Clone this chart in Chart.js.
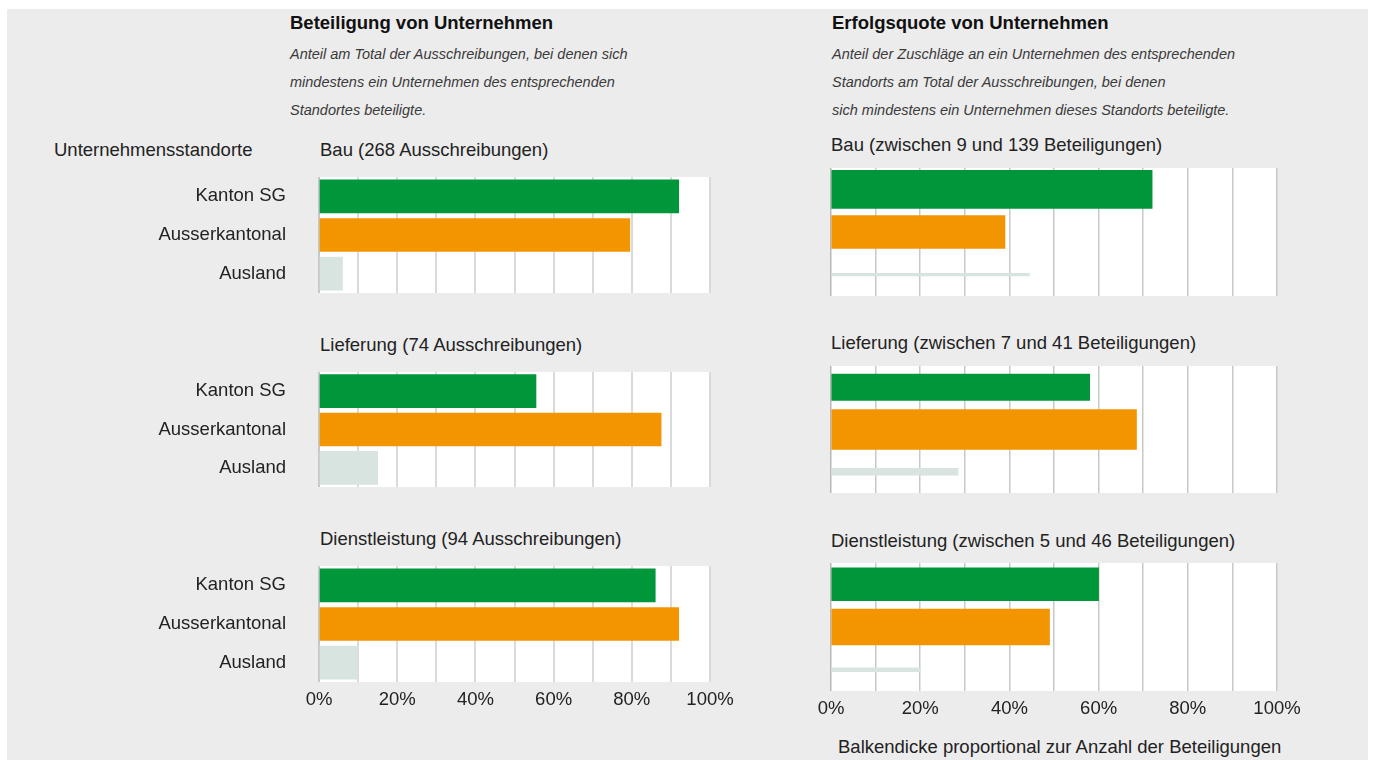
<!DOCTYPE html>
<html>
<head>
<meta charset="utf-8">
<script src="https://cdn.jsdelivr.net/npm/chart.js@4.4.1/dist/chart.umd.min.js"></script>
<style>
  body { margin: 0; background: #fff; font-family: "Liberation Sans", Arial, sans-serif; color: #1a1a1a; }
  #frame { position: absolute; left: 7px; top: 9px; width: 1361px; height: 751px; background: #ececec; }
  .t { position: absolute; white-space: nowrap; }
  .head { font-weight: bold; font-size: 18.5px; line-height: 22px; color: #111; }
  .sub { font-style: italic; font-size: 14.5px; line-height: 18px; color: #3a3a3a; }
  .lbl { font-size: 18.5px; line-height: 22px; color: #222; }
  .box { position: absolute; }
</style>
</head>
<body>
<div id="frame"></div>

<script>
const locations = ['Kanton SG', 'Ausserkantonal', 'Ausland'];
const sectors = ['Bau', 'Lieferung', 'Dienstleistung'];
const tenders = [268, 74, 94];
const xTicks = [0, 20, 40, 60, 80, 100];

// Beteiligung: Anteil am Total der Ausschreibungen (%)
const partBau = [92, 79.5, 6];
const partLieferung = [55.5, 87.5, 15];
const partDienst = [86, 92, 10];

// Erfolgsquote (%)
const winBau = [72, 39, 44.5];
const winLieferung = [58, 68.5, 28.5];
const winDienst = [60, 49, 20];

// Anzahl Beteiligungen (bestimmt die Balkendicke)
const bidsBau = [139, 121, 9];
const bidsLieferung = [27, 41, 7];
const bidsDienst = [42, 46, 5];

const colors = ['#00963a', '#f39500', '#d8e4e0'];
const font = { family: '"Liberation Sans", Arial, sans-serif', size: 18.5 };

function text(cls, str, x, yCenter, lh) {
  const d = document.createElement('div');
  d.className = 't ' + cls;
  d.textContent = str;
  d.style.left = x + 'px';
  d.style.top = (yCenter - lh / 2) + 'px';
  document.body.appendChild(d);
}

// headings
text('head', 'Beteiligung von Unternehmen', 290, 23, 22);
text('sub', 'Anteil am Total der Ausschreibungen, bei denen sich', 290, 54, 18);
text('sub', 'mindestens ein Unternehmen des entsprechenden', 290, 82, 18);
text('sub', 'Standortes beteiligte.', 290, 110, 18);

text('head', 'Erfolgsquote von Unternehmen', 832, 23, 22);
text('sub', 'Anteil der Zuschläge an ein Unternehmen des entsprechenden', 832, 54, 18);
text('sub', 'Standorts am Total der Ausschreibungen, bei denen', 832, 82, 18);
text('sub', 'sich mindestens ein Unternehmen dieses Standorts beteiligte.', 832, 110, 18);

text('lbl', 'Unternehmensstandorte', 54, 150, 22);
text('lbl', 'Balkendicke proportional zur Anzahl der Beteiligungen', 838, 747, 22);

// white plot background
const plotBg = {
  id: 'plotBg',
  beforeDraw(chart) {
    const a = chart.chartArea;
    const c = chart.ctx;
    c.save();
    c.fillStyle = '#ffffff';
    c.fillRect(a.left, a.top, a.right - a.left, a.bottom - a.top);
    c.restore();
  }
};

function addChart(rect, values, thickness, showY, showX, grid) {
  const pad = 14;
  const yw = showY ? 279 : 31;
  const xh = showX ? 34 : 0;
  const right = showX ? 40 : 10;

  const box = document.createElement('div');
  box.className = 'box';
  box.style.left = (rect[0] - yw) + 'px';
  box.style.top = (rect[1] - pad) + 'px';
  box.style.width = (rect[2] - rect[0] + yw + right) + 'px';
  box.style.height = (rect[3] - rect[1] + pad + (showX ? xh : pad)) + 'px';
  const cv = document.createElement('canvas');
  box.appendChild(cv);
  document.body.appendChild(box);

  new Chart(cv, {
    type: 'bar',
    data: {
      labels: locations,
      datasets: locations.map((loc, i) => ({
        label: loc,
        data: locations.map((_, j) => j === i ? values[i] : null),
        backgroundColor: colors[i],
        barThickness: thickness[i],
        grouped: false
      }))
    },
    options: {
      indexAxis: 'y',
      responsive: true,
      maintainAspectRatio: false,
      animation: false,
      layout: { autoPadding: false, padding: { top: pad, bottom: showX ? 0 : pad, left: 0, right: right } },
      plugins: { legend: { display: false }, tooltip: { enabled: false } },
      scales: {
        x: {
          min: 0,
          max: 100,
          afterFit: s => { s.height = xh; },
          grid: {
            color: c => c.tick && c.tick.value === 0 ? grid.zero : grid.color,
            lineWidth: grid.width,
            drawTicks: false
          },
          border: { display: false },
          ticks: {
            display: showX,
            stepSize: 10,
            autoSkip: false,
            maxRotation: 0,
            padding: 7,
            color: '#222',
            font: font,
            callback: v => xTicks.includes(v) ? v + '%' : ''
          }
        },
        y: {
          afterFit: s => { s.width = yw; },
          grid: {
            display: true,
            drawOnChartArea: false,
            drawTicks: true,
            tickLength: 33,
            tickColor: 'rgba(0,0,0,0)'
          },
          border: { display: false },
          ticks: { display: showY, padding: 0, color: '#222', font: font }
        }
      }
    },
    plugins: [plotBg]
  });
}

// left column: Beteiligung
const leftRects = [[319, 177, 710, 293], [319, 372, 710, 487], [319, 566, 710, 682]];
const leftTitleY = [150, 345, 539];
const leftGrid = { color: '#dadada', zero: '#c4c8c6', width: 2 };
const partValues = [partBau, partLieferung, partDienst];

// right column: Erfolgsquote
const rightRects = [[831, 168, 1277, 296], [831, 366, 1277, 493], [831, 563, 1277, 691]];
const rightTitleY = [145, 343, 541];
const rightGrid = { color: '#c8c8c8', zero: '#b8b8b8', width: 1.5 };
const maxThick = [38, 40, 36];
const winValues = [winBau, winLieferung, winDienst];
const bidValues = [bidsBau, bidsLieferung, bidsDienst];

sectors.forEach((s, k) => {
  const last = k === sectors.length - 1;
  text('lbl', s + ' (' + tenders[k] + ' Ausschreibungen)', leftRects[k][0] + 1, leftTitleY[k], 22);
  addChart(leftRects[k], partValues[k], [33, 33, 33], true, last, leftGrid);

  const bids = bidValues[k];
  const mx = Math.max(...bids);
  text('lbl', s + ' (zwischen ' + Math.min(...bids) + ' und ' + mx + ' Beteiligungen)', rightRects[k][0], rightTitleY[k], 22);
  addChart(rightRects[k], winValues[k], bids.map(b => b / mx * maxThick[k]), false, last, rightGrid);
});
</script>
</body>
</html>
